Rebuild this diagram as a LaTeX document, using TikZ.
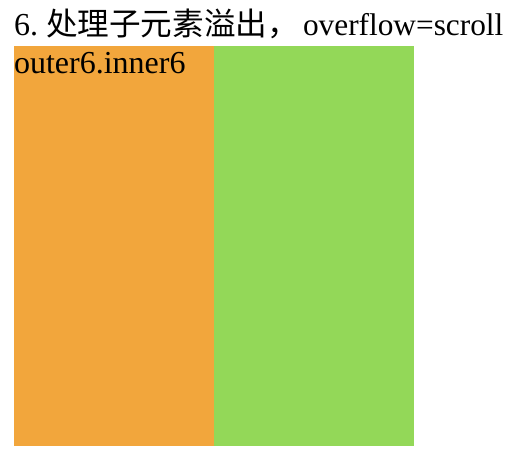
\documentclass[tikz,border=0pt]{standalone}
\usepackage{fontspec}
\setmainfont{Liberation Serif}
\newfontfamily\cjk{Noto Sans CJK SC}
\definecolor{orangebox}{HTML}{F2A63C}
\definecolor{greenbox}{HTML}{93D858}
\begin{document}
\begin{tikzpicture}[x=0.75pt,y=-0.75pt,
  txt/.style={anchor=base west,inner sep=0pt,outer sep=0pt,text=black},
  big/.style={font=\fontsize{24}{28}\selectfont}]
\useasboundingbox (0,0) rectangle (516,462);
\fill[orangebox] (14,46) rectangle (214,446);
\fill[greenbox] (214,46) rectangle (414,446);
\node[txt,big] (num) at (14,35) {6.};
\node[txt,font=\cjk\fontsize{23.7}{28}\selectfont] (cjktitle) at (46,35) {处理子元素溢出，};
\node[txt,font=\fontsize{23.5}{28}\selectfont] (latin) at (303,35) {overflow=scroll};
\node[txt,big] (label) at (14,73) {outer6.inner6};
\end{tikzpicture}
\end{document}
